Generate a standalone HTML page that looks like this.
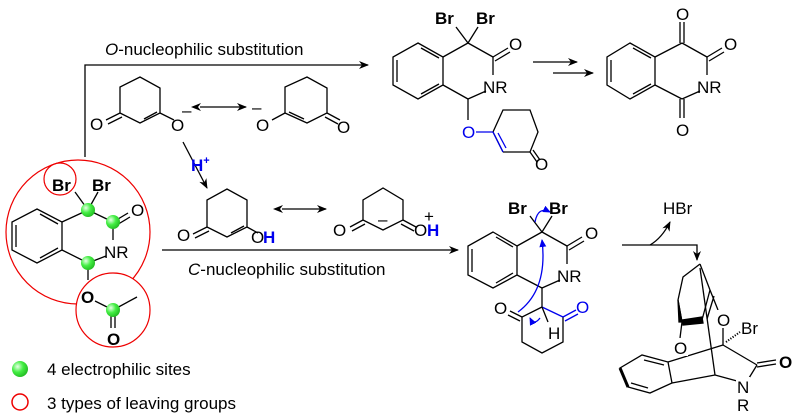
<!DOCTYPE html>
<html><head><meta charset="utf-8"><style>
html,body{margin:0;padding:0;background:#fff}
svg{display:block}
text{font-family:"Liberation Sans",Arial,sans-serif;font-size:17px;fill:#000}
.b{font-weight:bold}
.bl{fill:#0000ee}
</style></head><body>
<svg width="800" height="420" viewBox="0 0 800 420" xmlns="http://www.w3.org/2000/svg">
<defs>
<marker id="ah" markerWidth="10" markerHeight="8" refX="9" refY="4" orient="auto" markerUnits="userSpaceOnUse"><path d="M0,0 L10,4 L0,8 L3,4z" fill="#000"/></marker>
<marker id="ahs" markerWidth="10" markerHeight="8" refX="1" refY="4" orient="auto-start-reverse" markerUnits="userSpaceOnUse"><path d="M0,0 L10,4 L0,8 L3,4z" fill="#000"/></marker>
<marker id="bh" markerWidth="8" markerHeight="7" refX="7" refY="3.5" orient="auto" markerUnits="userSpaceOnUse"><path d="M0,0 L8,3.5 L0,7z" fill="#0000ee"/></marker>
<radialGradient id="g" cx="0.35" cy="0.35" r="0.7"><stop offset="0" stop-color="#e8ffe8"/><stop offset="0.5" stop-color="#44ee44"/><stop offset="1" stop-color="#22bb22"/></radialGradient>
</defs>
<g stroke="#000" stroke-width="1.3" fill="none">
<polyline points="85,157 85,65 368,65" marker-end="url(#ah)"/>
<polygon points="37,209 62,222 62,250 37,263 12,250 12,222"/>
<line x1="16" y1="225" x2="16" y2="247"/><line x1="40" y1="214" x2="58" y2="224"/><line x1="40" y1="258" x2="58" y2="248"/>
<line x1="62" y1="222" x2="88" y2="210"/><line x1="88" y1="210" x2="113" y2="222"/>
<line x1="88" y1="210" x2="75" y2="192"/><line x1="88" y1="210" x2="98" y2="192"/>
<line x1="113" y1="222" x2="128" y2="213"/><line x1="115" y1="226" x2="130" y2="217"/>
<line x1="113" y1="222" x2="113" y2="240"/><line x1="106" y1="256" x2="88" y2="263"/>
<line x1="62" y1="250" x2="88" y2="263"/><line x1="88" y1="263" x2="88" y2="280"/>
<polyline points="120,113 120,87 140,77 160,88 160,113 140,123 120,113"/>
<line x1="144" y1="119" x2="157" y2="112"/>
<line x1="120" y1="113" x2="106" y2="120"/><line x1="122" y1="117" x2="108" y2="124"/>
<line x1="160" y1="113" x2="174" y2="120"/>
<line x1="200" y1="107" x2="246" y2="107" marker-end="url(#ah)" marker-start="url(#ahs)"/>
<polyline points="285,113 285,87 307,77 327,88 327,113 307,123 285,113"/>
<line x1="289" y1="112" x2="304" y2="119"/>
<line x1="285" y1="113" x2="272" y2="120"/>
<line x1="327" y1="113" x2="340" y2="120"/><line x1="325" y1="117" x2="338" y2="124"/>
<line x1="183" y1="142" x2="207" y2="188" marker-end="url(#ah)"/>
<polyline points="207,227 207,200 227,189 247,200 247,227 227,237 207,227"/>
<line x1="231" y1="233" x2="244" y2="226"/>
<line x1="207" y1="227" x2="193" y2="234"/><line x1="209" y1="231" x2="195" y2="238"/>
<line x1="247" y1="227" x2="258" y2="233"/>
<line x1="282" y1="209" x2="326" y2="209" marker-end="url(#ah)" marker-start="url(#ahs)"/>
<polyline points="363,220 363,200 383,188 403,200 403,220 383,230 363,220"/>
<line x1="363" y1="220" x2="350" y2="227"/><line x1="365" y1="224" x2="352" y2="231"/>
<line x1="403" y1="220" x2="416" y2="227"/><line x1="401" y1="224" x2="414" y2="231"/>
<line x1="162" y1="250" x2="458" y2="250" marker-end="url(#ah)"/>
<polygon points="418,43 443,57 443,85 418,99 393,85 393,57"/>
<line x1="397" y1="60" x2="397" y2="82"/><line x1="421" y1="48" x2="439" y2="58"/><line x1="421" y1="94" x2="439" y2="84"/>
<line x1="443" y1="57" x2="468" y2="43"/><line x1="468" y1="43" x2="493" y2="57"/>
<line x1="468" y1="43" x2="456" y2="27"/><line x1="468" y1="43" x2="478" y2="27"/>
<line x1="493" y1="57" x2="508" y2="48"/><line x1="495" y1="61" x2="510" y2="52"/>
<line x1="493" y1="57" x2="493" y2="75"/><line x1="486" y1="91" x2="468" y2="99"/>
<line x1="443" y1="85" x2="468" y2="99"/><line x1="468" y1="99" x2="468" y2="120"/>
<polyline points="503,152 493,132 503,110 530,110 538,132 530,152 503,152"/>
<line x1="498" y1="133" x2="506" y2="148" stroke="#0000ee"/>
<line x1="493" y1="132" x2="503" y2="152" stroke="#0000ee"/>
<line x1="476" y1="132" x2="493" y2="132" stroke="#0000ee"/>
<line x1="530" y1="152" x2="537" y2="162"/><line x1="533" y1="150" x2="540" y2="160"/>
<line x1="533" y1="62" x2="577" y2="62" marker-end="url(#ah)"/>
<line x1="553" y1="73" x2="593" y2="73" marker-end="url(#ah)"/>
<polygon points="630,43 655,57 655,85 630,99 607,85 607,57"/>
<line x1="611" y1="60" x2="611" y2="82"/><line x1="633" y1="48" x2="651" y2="58"/><line x1="633" y1="94" x2="651" y2="84"/>
<line x1="655" y1="57" x2="682" y2="43"/><line x1="682" y1="43" x2="707" y2="57"/>
<line x1="680" y1="43" x2="680" y2="22"/><line x1="684" y1="43" x2="684" y2="22"/>
<line x1="707" y1="57" x2="722" y2="48"/><line x1="709" y1="61" x2="724" y2="52"/>
<line x1="707" y1="57" x2="707" y2="75"/><line x1="700" y1="91" x2="682" y2="99"/>
<line x1="655" y1="85" x2="682" y2="99"/>
<line x1="680" y1="99" x2="680" y2="118"/><line x1="684" y1="99" x2="684" y2="118"/>
<polygon points="493,232 517,246 517,275 493,288 468,275 468,246"/>
<line x1="472" y1="249" x2="472" y2="272"/><line x1="496" y1="237" x2="513" y2="247"/><line x1="496" y1="283" x2="513" y2="273"/>
<line x1="517" y1="246" x2="542" y2="232"/><line x1="542" y1="232" x2="567" y2="246"/>
<line x1="542" y1="232" x2="530" y2="216"/><line x1="542" y1="232" x2="552" y2="216"/>
<line x1="567" y1="246" x2="582" y2="237"/><line x1="569" y1="250" x2="584" y2="241"/>
<line x1="567" y1="246" x2="567" y2="264"/><line x1="560" y1="280" x2="542" y2="288"/>
<line x1="517" y1="275" x2="542" y2="288"/><line x1="542" y1="288" x2="542" y2="307"/>
<polyline points="542,307 522,317 522,342 542,353 563,342 563,317"/>
<line x1="563" y1="317" x2="542" y2="307" stroke="#0000ee"/>
<line x1="563" y1="317" x2="576" y2="310" stroke="#0000ee"/><line x1="565" y1="321" x2="578" y2="314" stroke="#0000ee"/>
<line x1="522" y1="317" x2="510" y2="311"/><line x1="520" y1="321" x2="508" y2="315"/>
<line x1="542" y1="307" x2="548" y2="322"/>
<polyline points="622,245 697,245 697,260" marker-end="url(#ah)"/>
<path d="M650,245 Q662,238 670,222" marker-end="url(#ah)"/>
<polyline points="700,264 683,277 678,300 682,322"/>
<line x1="700" y1="264" x2="710" y2="290"/>
<line x1="710" y1="290" x2="702" y2="320"/><line x1="714" y1="296" x2="707" y2="319"/>
<line x1="710" y1="290" x2="718" y2="310"/>
<polygon points="682,320 702,317 703,323 683,325" fill="#000"/>
<polygon points="678,300 682,322 679,322" fill="#000"/>
<line x1="682" y1="322" x2="680" y2="338"/>
<line x1="700" y1="268" x2="715" y2="375"/>
<line x1="723" y1="328" x2="723" y2="345"/>
<line x1="723" y1="345" x2="757" y2="365"/>
<line x1="757" y1="363" x2="776" y2="360"/><line x1="757" y1="367" x2="776" y2="364"/>
<line x1="757" y1="365" x2="749" y2="378"/>
<line x1="737" y1="381" x2="715" y2="375"/>
<line x1="715" y1="375" x2="672" y2="383"/>
<line x1="668" y1="362" x2="723" y2="345"/>
<polygon points="668,362 672,383 650,393 628,387 620,368 642,355"/>
<line x1="620" y1="368" x2="628" y2="387" stroke-width="3"/>
<line x1="644" y1="360" x2="664" y2="365"/>
<line x1="631" y1="383" x2="648" y2="388"/>
<line x1="726" y1="342" x2="740" y2="332" stroke-dasharray="1.2,1.5" stroke-width="2"/>
<path d="M518,312 Q548,290 542,240" stroke="#0000ee" marker-end="url(#bh)"/>
<path d="M535,222 Q538,206 550,212" stroke="#0000ee" marker-end="url(#bh)"/>
<path d="M540,318 Q534,326 530,318" stroke="#0000ee" marker-end="url(#bh)"/>
<circle cx="78" cy="232" r="72" stroke="#e00" stroke-width="1.2"/>
<circle cx="60" cy="179" r="16" stroke="#e00" stroke-width="1.2"/>
<circle cx="113" cy="310" r="37" stroke="#e00" stroke-width="1.2" fill="#fff"/>
<circle cx="20" cy="402" r="8" stroke="#e00" stroke-width="1.5"/>
</g>
<g stroke="#000" stroke-width="1.3">
<line x1="95" y1="301" x2="113" y2="310"/><line x1="113" y1="310" x2="137" y2="297"/>
<line x1="111" y1="310" x2="111" y2="328"/><line x1="115" y1="310" x2="115" y2="328"/>
</g>
<g fill="url(#g)">
<circle cx="88" cy="210" r="7"/><circle cx="113" cy="222" r="7"/><circle cx="88" cy="263" r="7"/><circle cx="113" cy="310" r="7"/>
<circle cx="20" cy="369" r="8"/>
</g>
<rect x="716" y="310" width="14" height="17" fill="#fff"/>
<rect x="672" y="338" width="16" height="18" fill="#fff"/>
<rect x="736" y="377" width="14" height="34" fill="#fff"/>
<text x="105" y="55"><tspan font-style="italic">O</tspan>-nucleophilic substitution</text>
<text x="188" y="275"><tspan font-style="italic">C</tspan>-nucleophilic substitution</text>
<text x="47" y="375">4 electrophilic sites</text>
<text x="47" y="409">3 types of leaving groups</text>
<text class="b" x="52" y="191">Br</text><text class="b" x="92" y="191">Br</text>
<text x="131" y="216">O</text><text x="104" y="258">NR</text>
<text class="b" x="81" y="303">O</text><text class="b" x="107" y="345">O</text>
<text x="90" y="130">O</text><text x="171" y="131">O</text><text x="182" y="116" font-size="14">–</text>
<text x="256" y="131">O</text><text x="252" y="113" font-size="14">–</text><text x="337" y="133">O</text>
<text class="b bl" x="191" y="171">H<tspan font-size="11" dy="-7">+</tspan></text>
<text x="177" y="241">O</text><text x="251" y="243">O</text><text class="b bl" x="263" y="243">H</text>
<text x="333" y="236">O</text><text x="378" y="225" font-size="14">–</text>
<text x="414" y="236">O</text><text x="424" y="222" font-size="13">+</text><text class="b bl" x="427" y="236">H</text>
<text class="b" x="435" y="24">Br</text><text class="b" x="476" y="24">Br</text>
<text x="509" y="50">O</text><text x="483" y="93">NR</text>
<text class="bl" x="462" y="138">O</text><text x="535" y="170">O</text>
<text x="676" y="20">O</text><text x="724" y="50">O</text><text x="697" y="93">NR</text><text x="676" y="136">O</text>
<text class="b" x="508" y="214">Br</text><text class="b" x="549" y="214">Br</text>
<text x="585" y="239">O</text><text x="557" y="282">NR</text>
<text x="494" y="314">O</text><text class="bl" x="576" y="313">O</text><text x="548" y="339">H</text>
<text x="663" y="214">HBr</text>
<text x="717" y="326">O</text><text x="741" y="334">Br</text><text x="674" y="354">O</text>
<text class="b" x="779" y="368">O</text><text x="737" y="393">N</text><text x="737" y="411">R</text>
</svg>
</body></html>
